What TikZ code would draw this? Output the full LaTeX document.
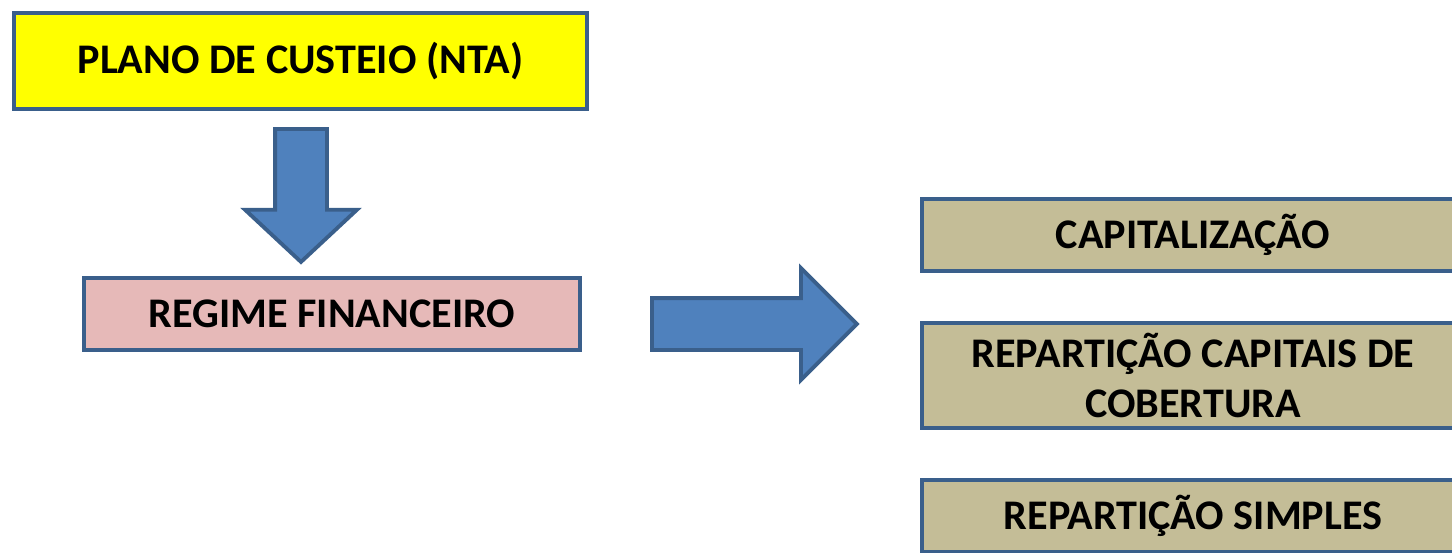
\documentclass[tikz,border=0pt]{standalone}
\usepackage{fontspec}
\setmainfont{Carlito}
\usetikzlibrary{shapes.arrows}
\definecolor{boxline}{HTML}{3A5F8B}
\definecolor{arrowblue}{HTML}{4F81BD}
\definecolor{planoyellow}{HTML}{FFFF00}
\definecolor{regimepink}{HTML}{E6B9B8}
\definecolor{tipotan}{HTML}{C4BD97}

\begin{document}
\begin{tikzpicture}[x=0.02cm,y=-0.02cm,
  box/.style={draw=boxline,line width=2.2pt,align=center,inner sep=0pt,
    font=\bfseries\fontsize{24}{28.5}\selectfont},
  tipobox/.style={box,fill=tipotan,minimum width=10.84cm},
  bigarrow/.style={single arrow,draw=boxline,fill=arrowblue,line width=2.2pt,
    inner xsep=0pt,inner ysep=0.48cm,single arrow head extend=0.6cm,anchor=tail}]
\useasboundingbox (0,0) rectangle (1452,552);
\clip (0,0) rectangle (1452,552);
\node[box,fill=planoyellow,minimum width=11.46cm,minimum height=1.92cm] (plano) at (300.5,61) {PLANO DE CUSTEIO (NTA)};
\node[box,fill=regimepink,minimum width=9.92cm,minimum height=1.44cm] (regime) at (332,314) {REGIME FINANCEIRO};
\node[tipobox,minimum height=1.44cm] (capit) at (1193,235) {CAPITALIZAÇÃO};
\node[tipobox,minimum height=2.1cm] (repcob) at (1193,375.5) {REPARTIÇÃO CAPITAIS DE\\COBERTURA};
\node[tipobox,minimum height=1.44cm] (repsim) at (1193,516) {REPARTIÇÃO SIMPLES};
% block arrows
\node[bigarrow,rotate=-90,minimum height=2.66cm,single arrow tip angle=94] (down) at (301,127) {};
\node[bigarrow,minimum height=4.1cm,single arrow tip angle=90] (right) at (650,324) {};
\end{tikzpicture}
\end{document}
